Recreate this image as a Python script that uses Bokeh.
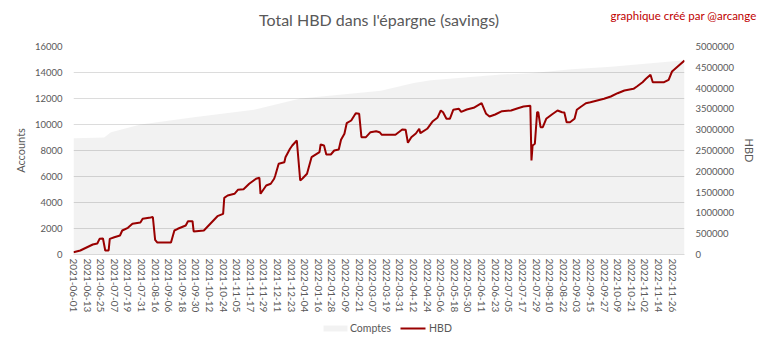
from bokeh.plotting import figure
from bokeh.models import (Range1d, LinearAxis, FixedTicker, BasicTickFormatter,
                          ColumnDataSource)
from bokeh.embed import file_html
from bokeh.resources import INLINE

# ---- data ----
tick_labels = [
    "2021-06-01", "2021-06-13", "2021-06-25", "2021-07-07", "2021-07-19", "2021-07-31",
    "2021-08-16", "2021-09-06", "2021-09-18", "2021-09-30", "2021-10-12", "2021-10-24",
    "2021-11-05", "2021-11-17", "2021-11-29", "2021-12-11", "2021-12-23", "2022-01-04",
    "2022-01-16", "2022-01-28", "2022-02-09", "2022-02-21", "2022-03-07", "2022-03-19",
    "2022-03-31", "2022-04-12", "2022-04-24", "2022-05-06", "2022-05-18", "2022-05-30",
    "2022-06-11", "2022-06-23", "2022-07-05", "2022-07-17", "2022-07-29", "2022-08-10",
    "2022-08-22", "2022-09-03", "2022-09-15", "2022-09-27", "2022-10-09", "2022-10-21",
    "2022-11-02", "2022-11-14", "2022-11-26",
]
tick_step = 12          # one label every 12 rows
n_rows = 540            # rows (days with data) in the series

# HBD in savings, at row indices
hbd_idx = [0, 6, 17, 21, 23, 26, 28, 31, 32, 36, 41, 43, 48, 52, 59, 61, 68, 70, 72, 74,
           86, 89, 92, 99, 101, 105, 106, 115, 127, 132, 133, 136, 142, 145, 150, 155,
           161, 164, 165, 170, 174, 177, 178, 181, 186, 187, 191, 193, 197, 200, 202,
           206, 210, 217, 218, 221, 223, 227, 230, 234, 236, 239, 241, 245, 249, 252,
           254, 258, 262, 267, 270, 272, 284, 290, 293, 295, 298, 302, 305, 306, 312,
           317, 321, 324, 326, 329, 332, 335, 340, 342, 347, 353, 360, 364, 367, 372,
           378, 386, 392, 397, 403, 404, 405, 407, 409, 410, 412, 414, 417, 422, 427,
           431, 433, 435, 438, 442, 444, 447, 452, 456, 462, 468, 474, 480, 486, 494,
           497, 502, 505, 509, 511, 521, 525, 528, 533, 539]
hbd_vals = [55000, 96000, 240000, 264000, 377000, 385000, 96000, 96000, 377000, 416000,
            457000, 577000, 642000, 738000, 769000, 858000, 889000, 901000, 353000, 288000,
            288000, 577000, 618000, 697000, 800000, 800000, 553000, 577000, 921000, 978000,
            1363000, 1418000, 1459000, 1555000, 1570000, 1700000, 1820000, 1844000, 1459000,
            1659000, 1700000, 1820000, 1899000, 2180000, 2219000, 2339000, 2541000, 2620000,
            2740000, 1779000, 1827000, 1940000, 2339000, 2459000, 2644000, 2620000, 2404000,
            2404000, 2500000, 2524000, 2757000, 2901000, 3156000, 3221000, 3397000, 3382000,
            2820000, 2820000, 2940000, 2964000, 2940000, 2877000, 2877000, 3005000, 2998000,
            2685000, 2820000, 2909000, 3022000, 2916000, 3022000, 3204000, 3286000, 3461000,
            3421000, 3262000, 3262000, 3478000, 3502000, 3430000, 3486000, 3526000, 3637000,
            3382000, 3317000, 3365000, 3445000, 3461000, 3517000, 3558000, 3574000, 2260000,
            2620000, 2661000, 3421000, 3421000, 3060000, 3060000, 3262000, 3365000, 3461000,
            3421000, 3413000, 3180000, 3180000, 3262000, 3478000, 3541000, 3637000, 3661000,
            3702000, 3743000, 3798000, 3877000, 3942000, 3983000, 4038000, 4142000, 4223000,
            4320000, 4142000, 4142000, 4200000, 4399000, 4519000, 4663000]

# Accounts (Comptes), at row indices
comptes_idx = [0, 27, 33, 59, 106, 159, 200, 271, 300, 315, 377, 403, 439, 474, 539]
comptes_vals = [8950, 9000, 9400, 10000, 10550, 11130, 12000, 12600, 13200, 13400,
                13850, 13950, 14250, 14450, 14950]

series_names = ["Comptes", "HBD"]
title_text = "Total HBD dans l'épargne (savings)"
credit_text = "graphique créé par @arcange"

FONT = "Lato"
GREY = "#595959"
RED = "#990000"
AREA_ALPHA = 0.05

p = figure(width=768, height=350, output_backend="svg", toolbar_location=None,
           title=None,
           x_range=Range1d(0, n_rows - 1), y_range=Range1d(0, 16000),
           min_border_left=73, min_border_right=84, min_border_top=46,
           min_border_bottom=96)
p.extra_y_ranges = {"hbd": Range1d(0, 5000000)}
# pixel-like range across the frame width, used to place header / legend items
p.extra_x_ranges = {"px": Range1d(0, 611)}

p.outline_line_color = None
p.xgrid.grid_line_color = None
p.ygrid.grid_line_color = "#dcdcdc"
p.ygrid.ticker = FixedTicker(ticks=list(range(0, 16001, 2000)))

src_c = ColumnDataSource(dict(x=comptes_idx, y=comptes_vals))
src_h = ColumnDataSource(dict(x=hbd_idx, y=hbd_vals))
r_area = p.varea(x="x", y1=0, y2="y", source=src_c, fill_color="black",
                 fill_alpha=AREA_ALPHA)
r_line = p.line(x="x", y="y", source=src_h, line_color=RED, line_width=2,
                y_range_name="hbd")


def bare(ax):
    ax.axis_line_color = None
    ax.major_tick_line_color = None
    ax.minor_tick_line_color = None
    ax.major_tick_out = 0
    ax.major_tick_in = 0
    ax.minor_tick_out = 0
    ax.minor_tick_in = 0


# x axis (dates)
xa = p.xaxis[0]
bare(xa)
xa.ticker = FixedTicker(ticks=[i * tick_step for i in range(len(tick_labels))])
xa.major_label_overrides = {i * tick_step: lab for i, lab in enumerate(tick_labels)}
xa.major_label_orientation = "vertical"
xa.major_label_text_font = FONT
xa.major_label_text_font_size = "10px"
xa.major_label_text_color = GREY
xa.major_label_standoff = 4
xa.axis_line_color = "#d9d9d9"

# header row above the frame: chart title and credit
head = LinearAxis(x_range_name="px", ticker=FixedTicker(ticks=[610]),
                  major_label_overrides={610: credit_text},
                  axis_label=title_text)
bare(head)
head.major_label_standoff = 25
head.major_label_text_font = FONT
head.major_label_text_font_size = "11.5px"
head.major_label_text_color = "#c00000"
head.axis_label_standoff = -23
head.axis_label_text_font = FONT
head.axis_label_text_font_size = "16px"
head.axis_label_text_font_style = "normal"
head.axis_label_text_color = GREY
p.add_layout(head, "above")

# legend row below the dates: spacer, "Comptes" swatch, "HBD" swatch + labels
spacer = LinearAxis(x_range_name="px", ticker=FixedTicker(ticks=[0]))
bare(spacer)
spacer.major_tick_out = 13
spacer.major_label_standoff = 0
spacer.major_label_text_color = None
p.add_layout(spacer, "below")

sw_c = LinearAxis(x_range_name="px", ticker=FixedTicker(ticks=[]), bounds=(250, 274))
bare(sw_c)
sw_c.axis_line_color = "black"
sw_c.axis_line_alpha = AREA_ALPHA
sw_c.axis_line_width = 6
sw_c.major_label_standoff = 0
sw_c.major_label_text_color = None
p.add_layout(sw_c, "below")

sw_h = LinearAxis(x_range_name="px", ticker=FixedTicker(ticks=[297, 367]),
                  major_label_overrides={297: series_names[0], 367: series_names[1]},
                  bounds=(327, 352))
bare(sw_h)
sw_h.axis_line_color = RED
sw_h.axis_line_width = 2
sw_h.major_label_standoff = -7
sw_h.major_label_text_font = FONT
sw_h.major_label_text_font_size = "10.5px"
sw_h.major_label_text_color = GREY
p.add_layout(sw_h, "below")

# left axis
ya = p.yaxis[0]
ya.ticker = FixedTicker(ticks=list(range(0, 16001, 2000)))
ya.formatter = BasicTickFormatter(use_scientific=False)
ya.axis_label = "Accounts"

ra = LinearAxis(y_range_name="hbd", axis_label="HBD",
                ticker=FixedTicker(ticks=list(range(0, 5000001, 500000))),
                formatter=BasicTickFormatter(use_scientific=False))
p.add_layout(ra, "right")

for ax in (ya, ra):
    bare(ax)
    ax.major_label_text_font = FONT
    ax.major_label_text_font_size = "9.5px"
    ax.major_label_text_color = GREY
    ax.major_label_standoff = 11
    ax.axis_label_text_font = FONT
    ax.axis_label_text_font_size = "11px"
    ax.axis_label_text_font_style = "normal"
    ax.axis_label_text_color = GREY
ya.axis_label_standoff = 5
ra.axis_label_standoff = 6

open("out.html", "w").write(file_html(p, INLINE))
